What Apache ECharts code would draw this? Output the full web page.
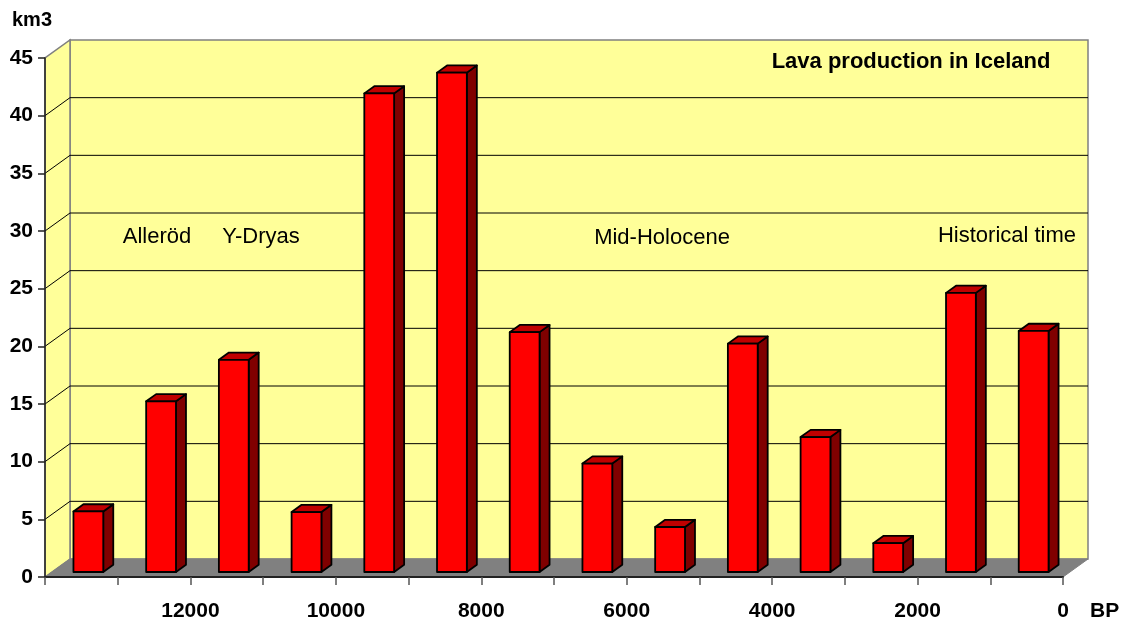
<!DOCTYPE html>
<html>
<head>
<meta charset="utf-8">
<title>Lava production in Iceland</title>
<script src="https://cdn.jsdelivr.net/npm/echarts@6/dist/echarts.min.js"></script>
<style>
  html, body { margin: 0; padding: 0; background: #ffffff; }
  #chart { width: 1127px; height: 625px; }
</style>
</head>
<body>
<div id="chart"></div>
<script>
// Lava volume erupted in Iceland per 1000-year interval (years BP)
const binMidBP = [13500, 12500, 11500, 10500, 9500, 8500, 7500, 6500, 5500, 4500, 3500, 2500, 1500, 500];
const lavaKm3 = [5.25, 14.8, 18.4, 5.2, 41.5, 43.3, 20.8, 9.4, 3.9, 19.8, 11.7, 2.5, 24.2, 20.9];
const labeledTicksBP = [12000, 10000, 8000, 6000, 4000, 2000, 0];
const periodNames = ['Alleröd', 'Y-Dryas', 'Mid-Holocene', 'Historical time'];
const chartTitle = 'Lava production in Iceland';

const FONT = '"Liberation Sans", Arial, Helvetica, sans-serif';
// pseudo-3D geometry (pixels)
const WALL = { dx: 25, dy: -18 };     // depth of the back wall
const BAR_SHIFT = { dx: 7, dy: -5 };  // bars stand a little behind the front edge
const BAR_DEPTH = { dx: 10, dy: -7.2 };

const chart = echarts.init(document.getElementById('chart'), null, { renderer: 'canvas' });

function shift(p, d) { return [p[0] + d.dx, p[1] + d.dy]; }

// back wall, side wall, floor and gridlines
function renderFrame(params, api) {
  const x0 = 14000, x1 = 0, yMax = 45;
  const fl = api.coord([x0, 0]), fr = api.coord([x1, 0]);
  const tl = api.coord([x0, yMax]), tr = api.coord([x1, yMax]);
  const children = [];
  // back wall
  children.push({
    type: 'polygon',
    shape: { points: [shift(fl, WALL), shift(fr, WALL), shift(tr, WALL), shift(tl, WALL)] },
    style: { fill: '#FFFF99', stroke: '#808080', lineWidth: 1.5 }
  });
  // left side wall
  children.push({
    type: 'polygon',
    shape: { points: [fl, shift(fl, WALL), shift(tl, WALL), tl] },
    style: { fill: '#FFFF99', stroke: '#808080', lineWidth: 1.5 }
  });
  // gridlines
  for (let v = 5; v < yMax; v += 5) {
    const a = api.coord([x0, v]), b = api.coord([x1, v]);
    children.push({
      type: 'line',
      shape: { x1: a[0] + WALL.dx, y1: a[1] + WALL.dy, x2: b[0] + WALL.dx, y2: b[1] + WALL.dy },
      style: { stroke: '#000000', lineWidth: 1 }
    });
    children.push({
      type: 'line',
      shape: { x1: a[0], y1: a[1], x2: a[0] + WALL.dx, y2: a[1] + WALL.dy },
      style: { stroke: '#000000', lineWidth: 1 }
    });
  }
  // floor
  children.push({
    type: 'polygon',
    shape: { points: [fl, fr, shift(fr, WALL), shift(fl, WALL)] },
    style: { fill: '#808080', stroke: '#808080', lineWidth: 1 }
  });
  return { type: 'group', children: children };
}

// one red column with front, side and top faces
function renderBar(params, api) {
  const x = api.value(0), v = api.value(1);
  const base = shift(api.coord([x, 0]), BAR_SHIFT);
  const top = shift(api.coord([x, v]), BAR_SHIFT);
  const w = api.size([1000, 0])[0] * 0.41;
  const left = base[0] - w / 2, right = base[0] + w / 2;
  const edge = { stroke: '#000000', lineWidth: 1.8, lineJoin: 'round' };
  return {
    type: 'group',
    children: [
      {
        type: 'polygon',
        shape: { points: [[right, top[1]], [right + BAR_DEPTH.dx, top[1] + BAR_DEPTH.dy],
                          [right + BAR_DEPTH.dx, base[1] + BAR_DEPTH.dy], [right, base[1]]] },
        style: Object.assign({ fill: '#800000' }, edge)
      },
      {
        type: 'polygon',
        shape: { points: [[left, top[1]], [left + BAR_DEPTH.dx, top[1] + BAR_DEPTH.dy],
                          [right + BAR_DEPTH.dx, top[1] + BAR_DEPTH.dy], [right, top[1]]] },
        style: Object.assign({ fill: '#C00000' }, edge)
      },
      {
        type: 'rect',
        shape: { x: left, y: top[1], width: w, height: base[1] - top[1] },
        style: Object.assign({ fill: '#FF0000' }, edge)
      }
    ]
  };
}

const textStyle = (size, weight) => ({ fontFamily: FONT, fontSize: size, fontWeight: weight, fill: '#000000' });

const option = {
  backgroundColor: '#ffffff',
  animation: false,
  grid: { left: 45, right: 64, top: 58, bottom: 48, containLabel: false },
  xAxis: {
    type: 'value',
    position: 'bottom',
    min: 0, max: 14000, interval: 1000, inverse: true,
    axisLine: { show: true, onZero: false, lineStyle: { color: '#222222', width: 2 } },
    axisTick: { show: true, length: 8, lineStyle: { color: '#555555', width: 1.5 } },
    splitLine: { show: false },
    axisLabel: {
      margin: 24,
      fontFamily: FONT, fontSize: 21, fontWeight: 'bold', color: '#000000',
      showMinLabel: true, showMaxLabel: true,
      formatter: v => (labeledTicksBP.indexOf(v) >= 0 ? String(v) : '')
    }
  },
  yAxis: {
    type: 'value',
    position: 'left',
    min: 0, max: 45, interval: 5,
    axisLine: { show: true, onZero: false, lineStyle: { color: '#222222', width: 1.5 } },
    axisTick: { show: true, length: 7, lineStyle: { color: '#222222', width: 1.5 } },
    splitLine: { show: false },
    axisLabel: { margin: 12, fontFamily: FONT, fontSize: 21, fontWeight: 'bold', color: '#000000' }
  },
  series: [
    {
      type: 'custom',
      name: 'frame',
      z: -1,
      silent: true,
      renderItem: renderFrame,
      data: [[0, 0]],
      encode: { x: 0, y: 1 }
    },
    {
      type: 'custom',
      name: 'Lava',
      z: 3,
      renderItem: renderBar,
      data: binMidBP.map((x, i) => [x, lavaKm3[i]]),
      encode: { x: 0, y: 1 }
    }
  ],
  graphic: [
    { type: 'text', left: 12, top: 10, style: Object.assign({ text: 'km3' }, textStyle(20, 'bold')) },
    { type: 'text', left: 1090, top: 601, style: Object.assign({ text: 'BP' }, textStyle(21, 'bold')) },
    { type: 'text', x: 911, y: 62, style: Object.assign({ text: chartTitle, align: 'center', verticalAlign: 'middle' }, textStyle(22, 'bold')) },
    { type: 'text', x: 157, y: 237, style: Object.assign({ text: periodNames[0], align: 'center', verticalAlign: 'middle' }, textStyle(22, 'normal')) },
    { type: 'text', x: 261, y: 237, style: Object.assign({ text: periodNames[1], align: 'center', verticalAlign: 'middle' }, textStyle(22, 'normal')) },
    { type: 'text', x: 662, y: 238, style: Object.assign({ text: periodNames[2], align: 'center', verticalAlign: 'middle' }, textStyle(22, 'normal')) },
    { type: 'text', x: 1007, y: 236, style: Object.assign({ text: periodNames[3], align: 'center', verticalAlign: 'middle' }, textStyle(22, 'normal')) }
  ]
};

chart.setOption(option);
</script>
</body>
</html>
